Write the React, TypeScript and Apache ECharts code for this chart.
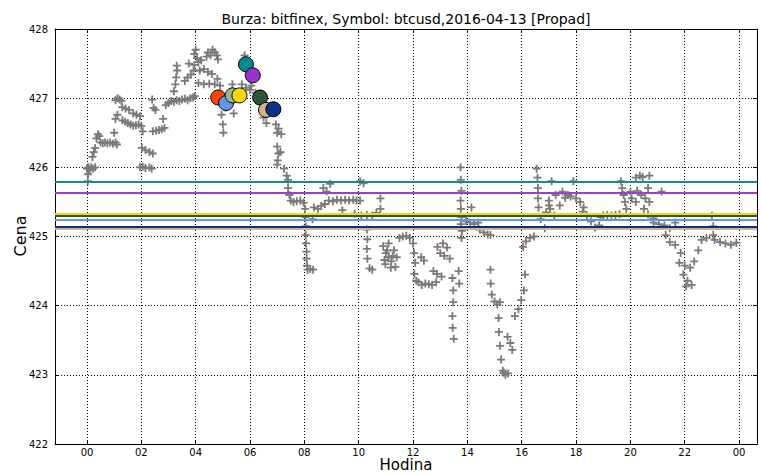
import React, { useEffect, useRef } from "react";
import * as echarts from "echarts";

const titleText = "Burza: bitfinex, Symbol: btcusd,2016-04-13 [Propad]";
const xName = "Hodina";
const yName = "Cena";
const hourTicks = [0, 2, 4, 6, 8, 10, 12, 14, 16, 18, 20, 22, 24];

// [hour, price] of each trade (gray "+")
const trades: [number, number][] = [
  [0.0, 425.98], [0.05, 426.0], [0.1, 425.97], [0.15, 426.0], [0.22, 425.98], [0.3, 426.0], [0.04, 425.9], [0.03, 425.8],
  [0.2, 426.15], [0.25, 426.22], [0.3, 426.28], [0.35, 426.42], [0.4, 426.48], [0.45, 426.45], [0.5, 426.36], [0.58, 426.35],
  [0.66, 426.36], [0.75, 426.35], [0.85, 426.36], [0.95, 426.34], [1.05, 426.36], [1.1, 426.33],
  [1.0, 426.5], [1.05, 426.7], [1.12, 426.76], [1.05, 426.97], [1.12, 427.0], [1.2, 426.98], [1.27, 426.96],
  [1.3, 426.87], [1.42, 426.85], [1.55, 426.83],
  [1.3, 426.68], [1.4, 426.66], [1.5, 426.64], [1.6, 426.62], [1.7, 426.6], [1.8, 426.61], [1.9, 426.62],
  [1.7, 426.78], [1.82, 426.76], [1.95, 426.74], [2.0, 426.6], [2.05, 426.52],
  [2.02, 426.28], [2.15, 426.25], [2.3, 426.22], [2.42, 426.2],
  [1.95, 426.0], [2.05, 426.01], [2.15, 425.99], [2.3, 426.0], [2.38, 425.98],
  [2.42, 426.52], [2.55, 426.53], [2.65, 426.54], [2.75, 426.55], [2.85, 426.57], [2.8, 426.7],
  [2.4, 426.98], [2.45, 426.86], [2.52, 426.83],
  [2.9, 426.9], [3.0, 426.93], [3.1, 426.96], [3.2, 426.95], [3.3, 426.97], [3.4, 426.96], [3.5, 426.98], [3.6, 426.99],
  [3.7, 426.97], [3.8, 427.0], [3.9, 427.01], [3.97, 427.03],
  [3.2, 427.1], [3.25, 427.2], [3.28, 427.3], [3.32, 427.4], [3.3, 427.47],
  [3.6, 427.25], [3.7, 427.3], [3.82, 427.34], [3.92, 427.4], [3.75, 427.5], [3.95, 427.48],
  [3.95, 427.64], [4.0, 427.7], [4.05, 427.58], [4.1, 427.52], [4.15, 427.4], [4.2, 427.55],
  [4.3, 427.42], [4.45, 427.38], [4.6, 427.35],
  [4.4, 427.6], [4.45, 427.66], [4.55, 427.62], [4.62, 427.7], [4.7, 427.66], [4.78, 427.62], [4.82, 427.56],
  [4.1, 427.22], [4.3, 427.2], [4.5, 427.21], [4.7, 427.2], [4.8, 427.28], [4.9, 427.18],
  [4.95, 426.76], [5.0, 426.62], [5.02, 426.5],
  [5.35, 427.2], [5.4, 426.78], [5.1, 426.86],
  [5.7, 427.2], [5.85, 427.15], [6.05, 427.18], [5.8, 427.62], [6.0, 427.12], [6.2, 427.08],
  [6.5, 426.72], [6.6, 426.64],
  [6.95, 426.62], [7.05, 426.56], [7.15, 426.48], [7.0, 426.5], [7.0, 426.3], [7.05, 426.2], [7.02, 426.1], [7.0, 426.04], [7.12, 426.22],
  [7.25, 425.98], [7.35, 425.88], [7.4, 425.82], [7.4, 425.7], [7.45, 425.6],
  [7.5, 425.52], [7.6, 425.5], [7.72, 425.51], [7.85, 425.52], [7.97, 425.49],
  [8.03, 425.4], [8.04, 425.28], [8.05, 425.15], [8.05, 425.02], [8.06, 424.9], [8.08, 424.78], [8.08, 424.68], [8.1, 424.58],
  [8.12, 424.52], [8.22, 424.53], [8.32, 424.52],
  [8.3, 425.25], [8.35, 425.42], [8.5, 425.4], [8.62, 425.44], [8.75, 425.47],
  [8.7, 425.7], [8.82, 425.65], [8.95, 425.76],
  [8.9, 425.52], [9.05, 425.51], [9.2, 425.53], [9.35, 425.52], [9.5, 425.53], [9.65, 425.52], [9.8, 425.53], [9.92, 425.52],
  [9.4, 425.38],
  [10.05, 425.8], [10.18, 425.77], [10.05, 425.52], [10.8, 425.55],
  [9.85, 425.33], [10.1, 425.3], [10.3, 425.31], [10.5, 425.3], [10.65, 425.34], [10.8, 425.4],
  [10.3, 425.1], [10.32, 424.96], [10.3, 424.82], [10.32, 424.68], [10.4, 424.54], [10.5, 424.52],
  [10.9, 424.86], [11.0, 424.76], [11.1, 424.7], [11.2, 424.64], [11.3, 424.8], [10.98, 424.6], [11.18, 424.55], [11.35, 424.56],
  [10.95, 424.66], [11.1, 424.9], [11.4, 424.7], [11.05, 424.8], [11.25, 424.72],
  [11.5, 424.98], [11.62, 425.0], [11.75, 425.01], [11.88, 424.98],
  [12.0, 424.9], [12.04, 424.76], [12.08, 424.62], [12.05, 424.46], [12.12, 424.36],
  [12.2, 424.34], [12.32, 424.3], [12.45, 424.32], [12.58, 424.31], [12.7, 424.3], [12.85, 424.34],
  [12.3, 424.7], [12.4, 424.65],
  [12.75, 424.5], [12.88, 424.46], [13.05, 424.42],
  [12.9, 424.85], [13.0, 424.76], [13.15, 424.72], [13.25, 424.84], [13.35, 424.68], [13.1, 424.9],
  [13.45, 424.4], [13.48, 424.22], [13.48, 424.05], [13.45, 423.85], [13.46, 423.68], [13.5, 423.52],
  [13.68, 424.5], [13.7, 424.32],
  [13.75, 426.0], [13.76, 425.82], [13.78, 425.66], [13.75, 425.52], [13.76, 425.4], [13.78, 425.28], [13.76, 425.18], [13.8, 425.08], [13.78, 424.98],
  [13.95, 425.22], [14.1, 425.2], [14.25, 425.18], [14.4, 425.2], [14.15, 425.42],
  [14.45, 425.1], [14.6, 425.06], [14.75, 425.03], [14.85, 425.02],
  [14.85, 424.52], [14.86, 424.32], [14.9, 424.16], [15.0, 424.06], [15.1, 424.02], [15.2, 424.05],
  [15.15, 423.82], [15.16, 423.62], [15.2, 423.42], [15.24, 423.22], [15.3, 423.06], [15.4, 423.0], [15.5, 423.02], [15.33, 423.03],
  [15.48, 423.55], [15.58, 423.46], [15.65, 423.36],
  [15.75, 423.85], [15.88, 423.95],
  [15.98, 424.08], [16.08, 424.22], [16.12, 424.45],
  [16.05, 424.85], [16.15, 424.93], [16.3, 424.98], [16.45, 425.0],
  [16.55, 425.98], [16.58, 425.85], [16.6, 425.7], [16.6, 425.55], [16.62, 425.42],
  [16.7, 425.25], [16.85, 425.12], [16.9, 425.35], [17.0, 425.45], [17.0, 425.52], [17.05, 425.4], [17.2, 425.3],
  [17.1, 425.8],
  [17.25, 425.6], [17.4, 425.45], [17.5, 425.65], [17.6, 425.56], [17.7, 425.6], [17.8, 425.58], [17.9, 425.8], [18.0, 425.55],
  [18.15, 425.5], [18.28, 425.42],
  [18.25, 425.36], [18.4, 425.3], [18.55, 425.22], [18.7, 425.13], [18.85, 425.16], [18.9, 425.28],
  [19.0, 425.3], [19.15, 425.31], [19.3, 425.3], [19.45, 425.31], [19.6, 425.32],
  [19.65, 425.8], [19.7, 425.7], [19.75, 425.6], [19.8, 425.5], [19.85, 425.4],
  [20.0, 425.65], [20.05, 425.55], [20.2, 425.5],
  [20.2, 425.85], [20.35, 425.88], [20.45, 425.86], [20.7, 425.88],
  [20.25, 425.66], [20.4, 425.6], [20.55, 425.55], [20.7, 425.5],
  [20.65, 425.7], [21.15, 425.65],
  [20.5, 425.4], [20.65, 425.32], [20.85, 425.26],
  [20.85, 425.2], [21.05, 425.18], [21.25, 425.16], [21.45, 425.12], [21.65, 425.2],
  [21.3, 425.02], [21.45, 424.92],
  [21.65, 424.88], [21.85, 424.76],
  [21.8, 424.62], [22.0, 424.58], [22.2, 424.55],
  [21.95, 424.45], [22.1, 424.36], [22.25, 424.3], [22.05, 424.28],
  [22.35, 424.64], [22.5, 424.8], [22.62, 424.95],
  [23.0, 425.3], [23.05, 425.15], [23.05, 425.02],
  [22.8, 424.98], [23.1, 424.95], [23.3, 424.92], [23.5, 424.9], [23.7, 424.88], [23.9, 424.91],
];

// coloured circles
const circleHours = [4.83, 5.12, 5.36, 5.61, 5.85, 6.1, 6.37, 6.59, 6.86];
const circlePrices = [427.01, 426.93, 427.04, 427.04, 427.49, 427.33, 427.01, 426.83, 426.84];
const circleColors = ["#ff4500", "#6495ed", "#8fbc8f", "#ffd700", "#008b8b", "#9932cc", "#2f5436", "#d2b48c", "#0b2f8a"];

// horizontal levels
const levelPrices = [425.79, 425.63, 425.33, 425.3, 425.24, 425.14, 425.11];
const levelColors = ["#118f8f", "#9b3fcf", "#ffd700", "#2f5436", "#6495ed", "#0b2f8a", "#d2b48c"];

const X_MIN = -1.178;
const X_MAX = 24.66;
const FONT = "DejaVu Sans";

const fmtHour = (v: number) => String(((Math.round(v) % 24) + 24) % 24).padStart(2, "0");

export default function App() {
  const ref = useRef<HTMLDivElement>(null);
  useEffect(() => {
    const chart = echarts.init(ref.current!, null, { renderer: "svg" });
    const gridLine = { show: true, lineStyle: { color: "#000", width: 1, type: [1, 2] as any } };
    const frame = { show: true, onZero: false, lineStyle: { color: "#000", width: 1 } };
    const option: any = {
      animation: false,
      backgroundColor: "#fff",
      textStyle: { fontFamily: FONT },
      grid: { left: 55, top: 29, width: 702, height: 415 },
      xAxis: [
        {
          type: "value",
          min: X_MIN,
          max: X_MAX,
          position: "bottom",
          axisLine: frame,
          axisTick: { show: true, inside: true, length: 4, customValues: hourTicks, lineStyle: { color: "#000" } },
          axisLabel: { customValues: hourTicks, formatter: fmtHour, color: "#000", fontSize: 10, fontFamily: FONT, margin: 3 },
          splitLine: gridLine,
        },
        {
          type: "value",
          min: X_MIN,
          max: X_MAX,
          position: "top",
          axisLine: frame,
          axisTick: { show: true, inside: true, length: 4, customValues: hourTicks, lineStyle: { color: "#000" } },
          axisLabel: { show: false },
          splitLine: { show: false },
        },
      ],
      yAxis: [
        {
          type: "value",
          min: 422,
          max: 428,
          interval: 1,
          position: "left",
          axisLine: frame,
          axisTick: { show: true, inside: true, length: 4, lineStyle: { color: "#000" } },
          axisLabel: { color: "#000", fontSize: 10, fontFamily: FONT, margin: 7 },
          splitLine: gridLine,
        },
        {
          type: "value",
          min: 422,
          max: 428,
          interval: 1,
          position: "right",
          axisLine: frame,
          axisTick: { show: true, inside: true, length: 4, lineStyle: { color: "#000" } },
          axisLabel: { show: false },
          splitLine: { show: false },
        },
      ],
      graphic: [
        { type: "text", x: 406, y: 19, style: { text: titleText, fontSize: 14, fontFamily: FONT, fill: "#000", align: "center", verticalAlign: "middle" } },
        { type: "text", x: 406, y: 465, style: { text: xName, fontSize: 15, fontFamily: FONT, fill: "#000", align: "center", verticalAlign: "middle" } },
        { type: "text", x: 20, y: 236, rotation: Math.PI / 2, style: { text: yName, fontSize: 16, fontFamily: FONT, fill: "#000", align: "center", verticalAlign: "middle" } },
      ],
      series: [
        {
          type: "line",
          data: [],
          z: 1,
          silent: true,
          markLine: {
            silent: true,
            symbol: "none",
            label: { show: false },
            data: levelPrices.map((p, i) => ({ yAxis: p, lineStyle: { color: levelColors[i], width: 2.2, type: "solid", opacity: 1 } })),
          },
        },
        {
          type: "scatter",
          z: 2,
          data: trades,
          symbol: "path://M5,0L5,10M0,5L10,5",
          symbolSize: 8,
          itemStyle: { color: "rgba(0,0,0,0)", borderColor: "#7a7a7a", borderWidth: 1.8, opacity: 1 },
        },
        {
          type: "scatter",
          z: 3,
          symbol: "circle",
          symbolSize: 15,
          data: circleHours.map((h, i) => ({ value: [h, circlePrices[i]], itemStyle: { color: circleColors[i], opacity: 1 } })),
          itemStyle: { borderColor: "#000", borderWidth: 1, opacity: 1 },
        },
      ],
    };
    chart.setOption(option);
    return () => chart.dispose();
  }, []);
  return <div ref={ref} style={{ position: "fixed", left: 0, top: 0, width: 761, height: 474, background: "#fff" }} />;
}
